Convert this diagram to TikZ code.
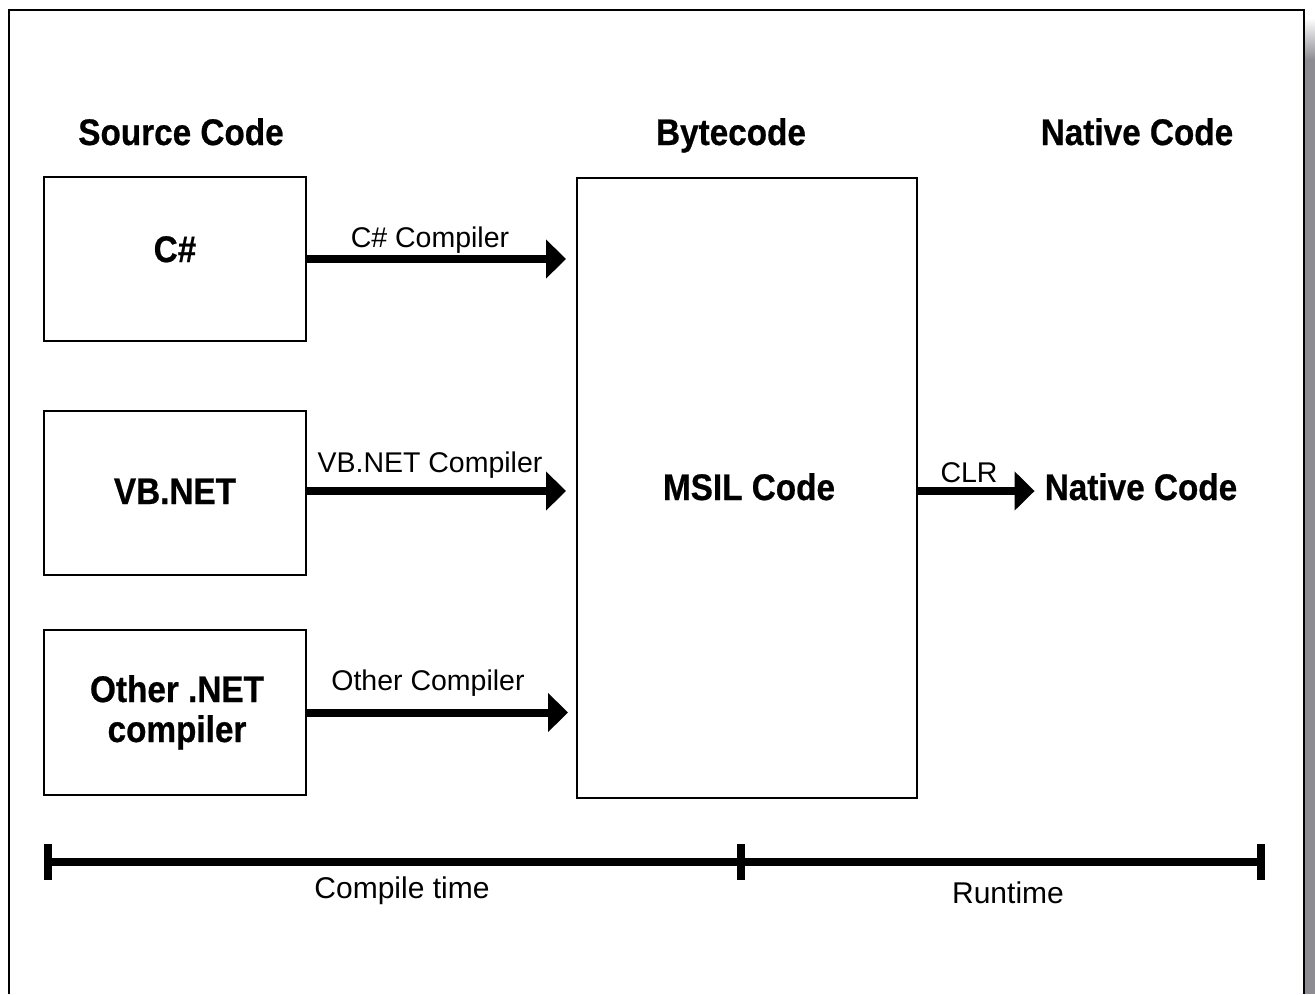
\documentclass[tikz,border=0pt]{standalone}
\usepackage{fontspec}
\setmainfont{Liberation Sans}
\newfontfamily\hdfont[FakeStretch=0.9,FakeBold=0.6]{Liberation Sans}
\usetikzlibrary{arrows.meta,calc}
\definecolor{shadowgray}{RGB}{140,140,146}
\begin{document}
\begin{tikzpicture}[x=1pt,y=-1pt,
  hd/.style={font=\hdfont\bfseries\fontsize{37}{42}\selectfont, anchor=base, inner sep=0pt},
  lbl/.style={font=\fontsize{28.5}{33}\selectfont, anchor=base, inner sep=0pt},
  tlbl/.style={font=\fontsize{30}{35}\selectfont, anchor=base, inner sep=0pt},
  box/.style={draw, line width=2pt, inner sep=0pt},
  flow/.style={line width=8pt, -{Triangle[length=20pt,width=38pt]}},
  bar/.style={line width=8pt, line cap=butt}]
\useasboundingbox (0,0) rectangle (1315,994);
% frame and shadow
\fill[white] (0,0) rectangle (1315,994);
\shade[top color=white, bottom color=shadowgray] (1305,18) rectangle (1315,60);
\fill[shadowgray] (1305,59.5) rectangle (1315,994);
\draw[line width=2pt] (9,994) -- (9,10) -- (1304,10) -- (1304,994);
% headings
\node[hd] (hsrc) at (181,145) {Source Code};
\node[hd] (hbyte) at (731,145) {Bytecode};
\node[hd] (hnat) at (1137,145) {Native Code};
% source boxes
\node[box, minimum width=262pt, minimum height=164pt] (cs) at (175,259) {};
\node[box, minimum width=262pt, minimum height=164pt] (vb) at (175,493) {};
\node[box, minimum width=262pt, minimum height=165pt] (oth) at (175,712.5) {};
\node[hd] (cst) at (175,262) {C\#};
\node[hd] (vbt) at (175,504) {VB.NET};
\node[hd] (otht1) at (177,702) {Other .NET};
\node[hd] (otht2) at (177,742) {compiler};
% MSIL box
\node[box, minimum width=340pt, minimum height=620pt] (msil) at (747,488) {};
\node[hd] (msilt) at (749,500) {MSIL Code};
% native code
\node[hd] (nat) at (1141,500) {Native Code};
% arrows
\draw[flow, shorten >=10pt] (cs.east) -- (cs.east -| msil.west);
\draw[flow, shorten >=10pt] ([yshift=2pt]vb.east) -- ([yshift=2pt]vb.east -| msil.west);
\draw[flow, shorten >=8pt] (oth.east) -- (oth.east -| msil.west);
\draw[flow, shorten >=10pt] ([yshift=-3pt]msil.east) -- ([yshift=-3pt]msil.east -| nat.west);
% arrow labels
\node[lbl] (csl) at (430,247) {C\# Compiler};
\node[lbl] (vbl) at (430,472) {VB.NET Compiler};
\node[lbl] (othl) at (428,690) {Other Compiler};
\node[lbl] (clrl) at (969,482) {CLR};
% timeline
\coordinate (t0) at (48,862);
\coordinate (t1) at (741,862);
\coordinate (t2) at (1261,862);
\draw[bar] (t0) -- (t2);
\draw[bar] ([yshift=18pt]t0) -- ([yshift=-18pt]t0);
\draw[bar] ([yshift=18pt]t1) -- ([yshift=-18pt]t1);
\draw[bar] ([yshift=18pt]t2) -- ([yshift=-18pt]t2);
\node[tlbl] (ctl) at (402,898) {Compile time};
\node[tlbl] (rtl) at (1008,903) {Runtime};
\end{tikzpicture}
\end{document}
